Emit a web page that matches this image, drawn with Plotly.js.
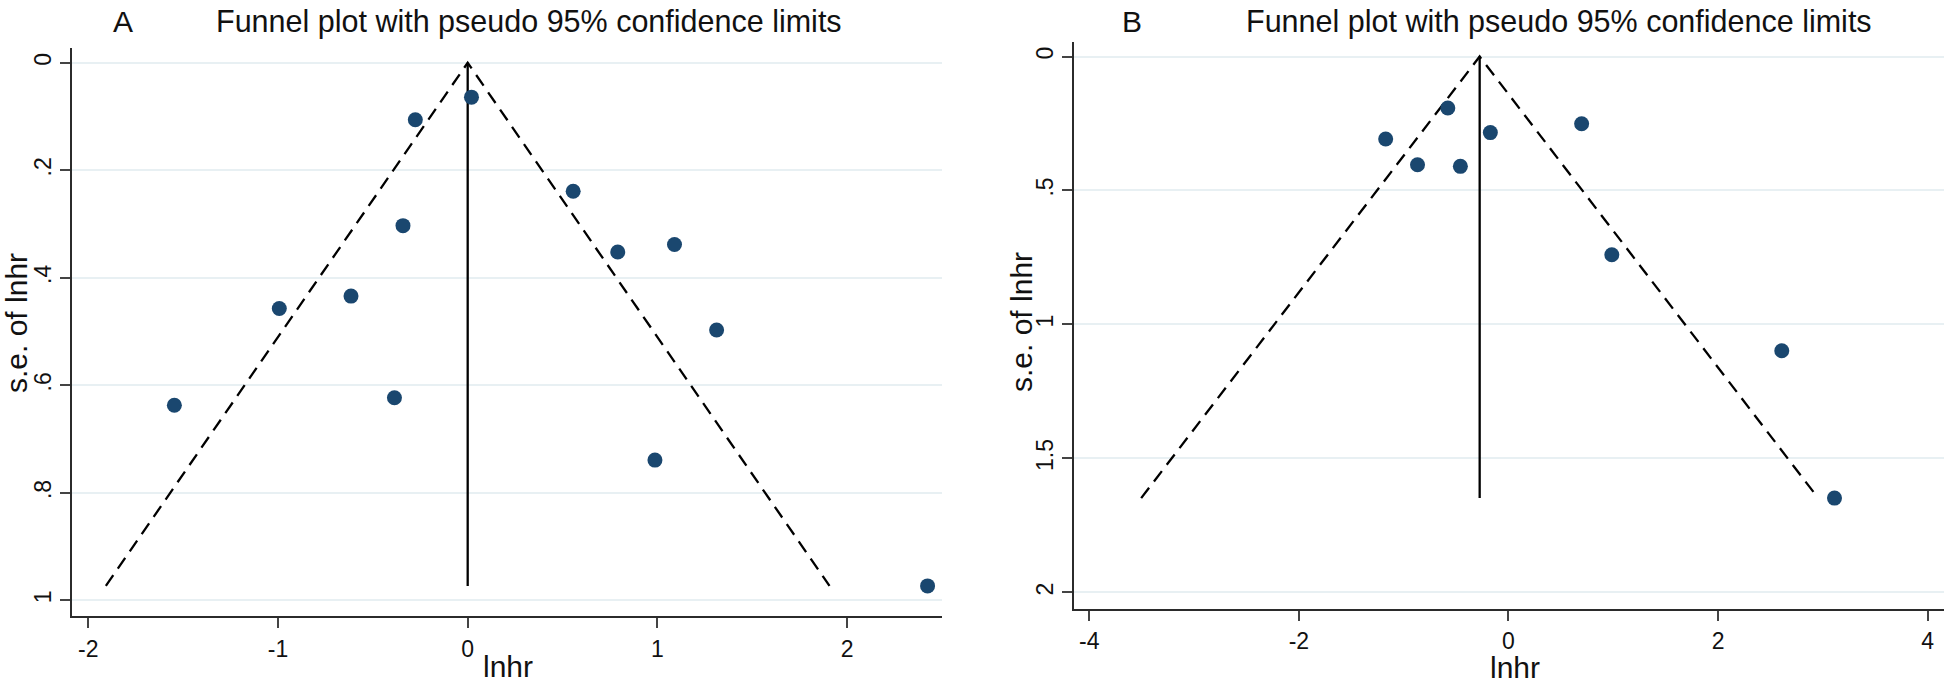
<!DOCTYPE html>
<html>
<head>
<meta charset="utf-8">
<script src="https://cdn.plot.ly/plotly-3.0.1.min.js"></script>
<style>
  html, body { margin: 0; padding: 0; background: #ffffff; }
  #chart { width: 1944px; height: 685px; }
</style>
</head>
<body>
<div id="chart"></div>
<script>
// ---- Data ----
// Panel A
const lnhrA = [0.02, -0.276, 0.556, -0.341, 0.791, 1.090, -0.615, -0.993, 1.312, -0.386, -1.546, 0.987, 2.424];
const seA   = [0.064, 0.106, 0.239, 0.303, 0.352, 0.338, 0.434, 0.457, 0.497, 0.623, 0.637, 0.739, 0.973];
const thetaA = 0.0;           // pooled estimate (vertical line)
// Panel B
const lnhrB = [-0.579, 0.698, -1.172, -0.173, -0.868, -0.459, 0.986, 2.608, 3.111];
const seB   = [0.192, 0.251, 0.308, 0.284, 0.404, 0.410, 0.740, 1.098, 1.648];
const thetaB = -0.275;
// Tick labels
const xTickValsA = [-2, -1, 0, 1, 2];
const xTickTextA = ['-2', '-1', '0', '1', '2'];
const yTickValsA = [0, 0.2, 0.4, 0.6, 0.8, 1];
const yTickTextA = ['0', '.2', '.4', '.6', '.8', '1'];
const xTickValsB = [-4, -2, 0, 2, 4];
const xTickTextB = ['-4', '-2', '0', '2', '4'];
const yTickValsB = [0, 0.5, 1, 1.5, 2];
const yTickTextB = ['0', '.5', '1', '1.5', '2'];
const panelLabels = ['A', 'B'];
const titleText = 'Funnel plot with pseudo 95% confidence limits';
const xTitle = 'lnhr';
const yTitle = 's.e. of lnhr';

// ---- Build ----
const W = 1944, H = 685;
const px = v => v / W;
const py = v => 1 - v / H;
const FONT = 'Liberation Sans, Arial, Helvetica, sans-serif';
const navy = '#1a476f';
const ink = '#111111';

function funnel(theta, se, xa, ya) {
  const m = Math.max(...se);
  return [
    { x: [theta - 1.96 * m, theta, theta + 1.96 * m], y: [m, 0, m], mode: 'lines', xaxis: xa, yaxis: ya,
      line: { color: '#000', width: 2.3, dash: '13px,8px' }, hoverinfo: 'skip', showlegend: false },
    { x: [theta, theta], y: [0, m], mode: 'lines', xaxis: xa, yaxis: ya,
      line: { color: '#000', width: 2.3 }, hoverinfo: 'skip', showlegend: false }
  ];
}

const traces = [
  ...funnel(thetaA, seA, 'x', 'y'),
  { x: lnhrA, y: seA, mode: 'markers', xaxis: 'x', yaxis: 'y',
    marker: { color: navy, size: 15 }, showlegend: false },
  ...funnel(thetaB, seB, 'x2', 'y2'),
  { x: lnhrB, y: seB, mode: 'markers', xaxis: 'x2', yaxis: 'y2',
    marker: { color: navy, size: 15 }, showlegend: false }
];

const axisCommon = {
  showline: true, linecolor: '#2b2b2b', linewidth: 2, mirror: false,
  ticks: 'outside', ticklen: 10, tickwidth: 2, tickcolor: '#444',
  tickfont: { family: FONT, size: 23, color: ink },
  zeroline: false, automargin: false, fixedrange: true
};

const layout = {
  width: W, height: H, autosize: false,
  margin: { l: 0, r: 0, t: 0, b: 0, pad: 0 },
  paper_bgcolor: '#ffffff', plot_bgcolor: '#ffffff',
  showlegend: false,
  xaxis: Object.assign({}, axisCommon, {
    domain: [px(72.3), px(942)], range: [-2.084, 2.50], anchor: 'y',
    tickmode: 'array', tickvals: xTickValsA, ticktext: xTickTextA, showgrid: false,
    ticklabelstandoff: 1
  }),
  yaxis: Object.assign({}, axisCommon, {
    domain: [py(616), py(47.7)], range: [1.029, -0.028], anchor: 'x',
    tickmode: 'array', tickvals: yTickValsA, ticktext: yTickTextA, tickangle: -90,
    showgrid: true, gridcolor: '#e8f0f3', gridwidth: 2, ticklabelstandoff: 0
  }),
  xaxis2: Object.assign({}, axisCommon, {
    domain: [px(1073.7), 1], range: [-4.149, 4.156], anchor: 'y2',
    tickmode: 'array', tickvals: xTickValsB, ticktext: xTickTextB, showgrid: false,
    ticklabelstandoff: 0
  }),
  yaxis2: Object.assign({}, axisCommon, {
    domain: [py(609.3), py(41.5)], range: [2.063, -0.056], anchor: 'x2',
    tickmode: 'array', tickvals: yTickValsB, ticktext: yTickTextB, tickangle: -90,
    showgrid: true, gridcolor: '#e8f0f3', gridwidth: 2, ticklabelstandoff: 0
  }),
  annotations: [
    { text: panelLabels[0], x: px(123.5), y: py(21), xref: 'paper', yref: 'paper',
      xanchor: 'center', yanchor: 'middle', showarrow: false, font: { family: FONT, size: 30, color: ink } },
    { text: titleText, x: px(528.5), y: py(21), xref: 'paper', yref: 'paper',
      xanchor: 'center', yanchor: 'middle', showarrow: false, font: { family: FONT, size: 30.5, color: ink } },
    { text: panelLabels[1], x: px(1132), y: py(21), xref: 'paper', yref: 'paper',
      xanchor: 'center', yanchor: 'middle', showarrow: false, font: { family: FONT, size: 30, color: ink } },
    { text: titleText, x: px(1559), y: py(21), xref: 'paper', yref: 'paper',
      xanchor: 'center', yanchor: 'middle', showarrow: false, font: { family: FONT, size: 30.5, color: ink } },
    // axis titles
    { text: xTitle, x: px(508), y: py(666), xref: 'paper', yref: 'paper',
      xanchor: 'center', yanchor: 'middle', showarrow: false, font: { family: FONT, size: 30, color: ink } },
    { text: xTitle, x: px(1515), y: py(667), xref: 'paper', yref: 'paper',
      xanchor: 'center', yanchor: 'middle', showarrow: false, font: { family: FONT, size: 30, color: ink } },
    { text: yTitle, x: px(16), y: py(323), xref: 'paper', yref: 'paper', textangle: -90,
      xanchor: 'center', yanchor: 'middle', showarrow: false, font: { family: FONT, size: 30, color: ink } },
    { text: yTitle, x: px(1021), y: py(322), xref: 'paper', yref: 'paper', textangle: -90,
      xanchor: 'center', yanchor: 'middle', showarrow: false, font: { family: FONT, size: 30, color: ink } }
  ]
};

Plotly.newPlot('chart', traces, layout, { staticPlot: true, displayModeBar: false });
</script>
</body>
</html>
